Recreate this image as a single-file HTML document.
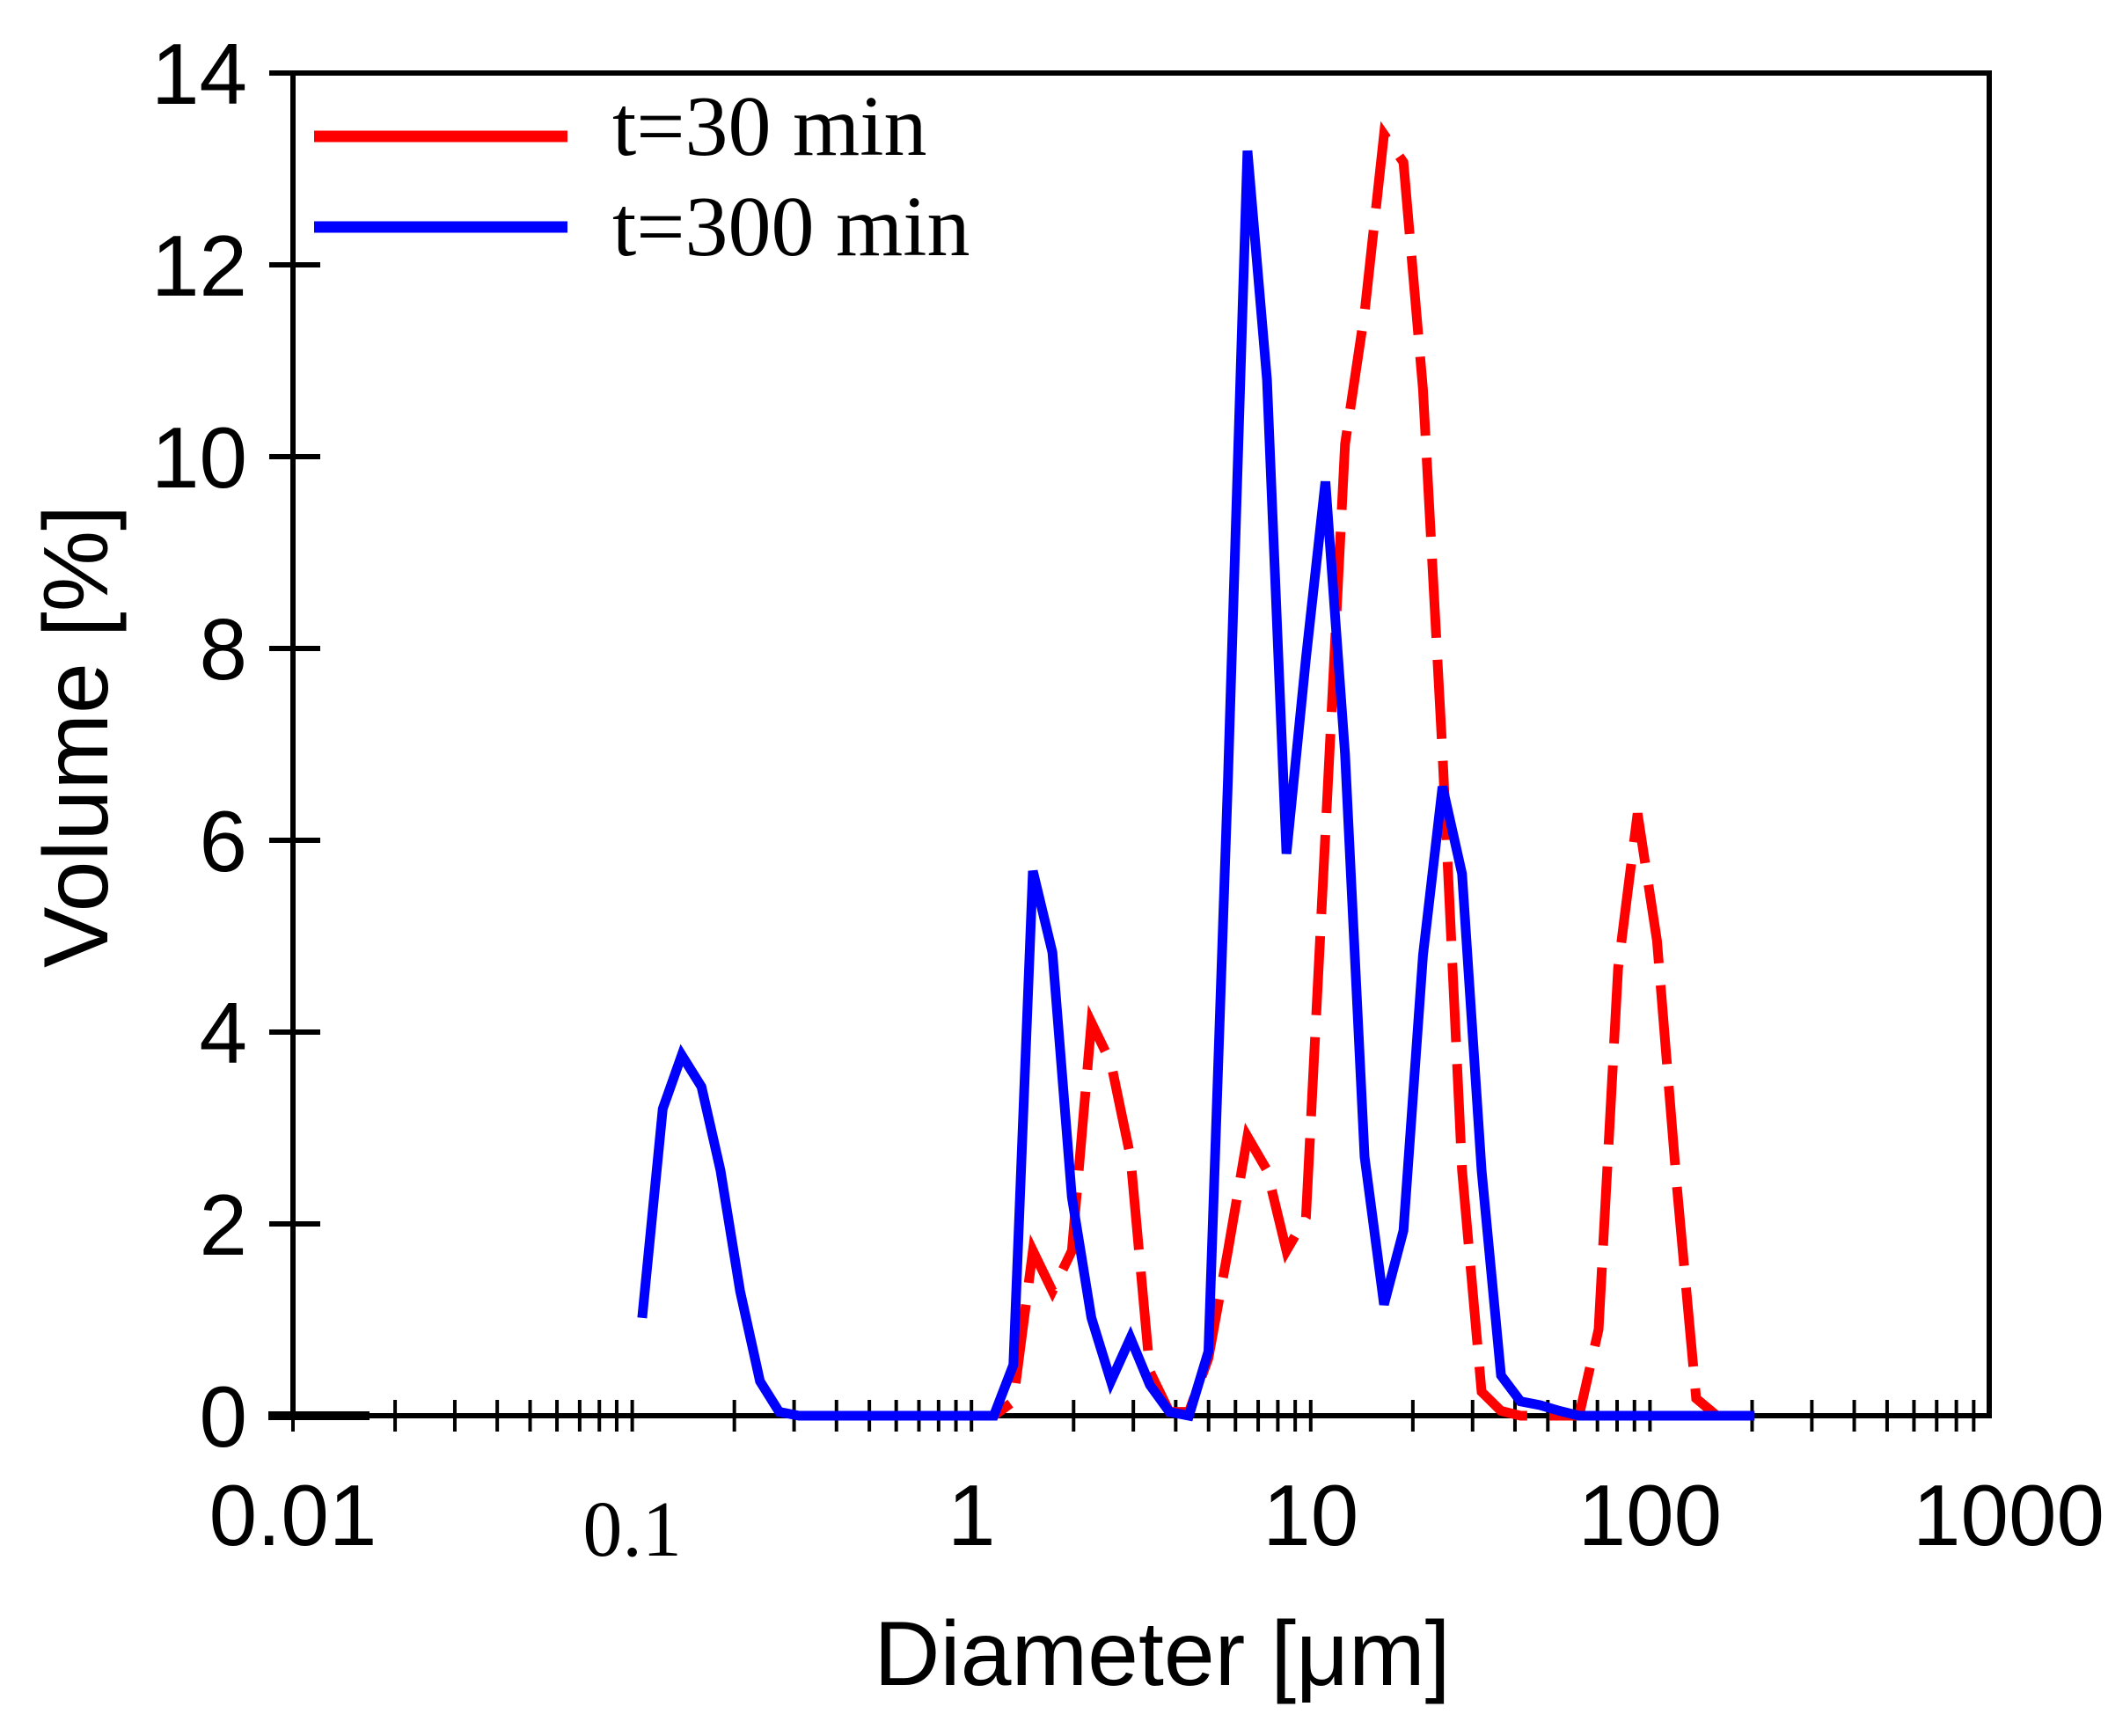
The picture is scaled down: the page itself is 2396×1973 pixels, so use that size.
<!DOCTYPE html>
<html><head><meta charset="utf-8"><style>
html,body{margin:0;padding:0;background:#fff;}
svg{display:block;}
</style></head><body>
<svg id="chart" width="2396" height="1973" viewBox="0 0 2396 1973" xmlns="http://www.w3.org/2000/svg">
<rect x="0" y="0" width="2396" height="1973" fill="#fff"/>
<g id="plot"></g>
<text transform="translate(122,837) rotate(-90)" text-anchor="middle" font-family="'Liberation Sans',sans-serif" font-size="104" fill="#000">Volume [%]</text>
<text x="1321" y="1915" text-anchor="middle" font-family="'Liberation Sans',sans-serif" font-size="104" fill="#000">Diameter [μm]</text>
<g>
<line x1="357" y1="155" x2="645" y2="155" stroke="#ff0000" stroke-width="13"/>
<text x="696" y="176" font-family="'Liberation Serif',serif" font-size="98" fill="#000">t=30 min</text>
<line x1="357" y1="258" x2="645" y2="258" stroke="#0000ff" stroke-width="13"/>
<text x="696" y="290" font-family="'Liberation Serif',serif" font-size="98" fill="#000">t=300 min</text>
</g>
</svg>
<script>
const diameters=[0.107,0.123,0.140,0.160,0.182,0.208,0.238,0.271,0.310,0.354,0.404,0.461,0.526,0.600,0.685,0.782,0.893,1.020,1.164,1.329,1.517,1.732,1.977,2.257,2.576,2.941,3.357,3.832,4.375,4.994,5.702,6.509,7.430,8.482,9.683,11.05,12.62,14.41,16.44,18.77,21.43,24.46,27.93,31.88,36.39,41.55,47.42,54.14,61.80,70.55,80.54,91.94,104.9,119.8,136.8,156.1,178.2,203.4];
const blueValues=[1.02,3.2,3.76,3.43,2.56,1.3,0.36,0.04,0,0,0,0,0,0,0,0,0,0,0,0.53,5.68,4.83,2.28,1.02,0.36,0.81,0.32,0.04,0,0.67,6.63,13.19,10.8,5.86,7.9,9.74,6.9,2.7,1.16,1.93,4.8,6.56,5.65,2.56,0.42,0.15,0.11,0.05,0,0,0,0,0,0,0,0,0,0];
const redValues=[null,null,null,null,null,null,null,null,null,null,null,null,null,null,null,0,0,0,0,0.15,1.72,1.3,1.72,4.1,3.68,2.7,0.46,0.04,0.04,0.6,1.72,2.91,2.56,1.72,2.07,6.07,10.13,11.5,13.36,13.07,10.7,6.9,2.56,0.25,0.05,0,0,0,0,0.9,4.67,6.28,4.95,2.42,0.18,0.01,null,null];
const xTickLabels=["0.01","0.1","1","10","100","1000"];
const xTickValues=[0.01,0.1,1,10,100,1000];
const yTickValues=[0,2,4,6,8,10,12,14];

const L=333,R=2261,T=83,B=1609;
const X=d=>L+(Math.log10(d)+2)/5*(R-L);
const Y=v=>B-v/14*(B-T);
const NS="http://www.w3.org/2000/svg";
const g=document.getElementById('plot');
function mk(tag,attrs){const e=document.createElementNS(NS,tag);for(const k in attrs)e.setAttribute(k,attrs[k]);g.appendChild(e);return e;}

let f=mk('rect',{x:L,y:T,width:R-L,height:B-T,fill:'none',stroke:'#000','stroke-width':6});


let zl=mk('line',{x1:305,y1:B,x2:420,y2:B,stroke:'#000','stroke-width':10});



for(let e=-2;e<3;e++){
  for(let m=1;m<10;m++){
    const d=m*Math.pow(10,e);const x=X(d);
    const t=mk('line',{x1:x,y1:B-18,x2:x,y2:B+18,stroke:'#000','stroke-width':4});
    
    
  }
}
xTickValues.forEach((v,i)=>{
  const serif=xTickLabels[i]==="0.1";
  const t=mk('text',{x:X(v),y:serif?1768:1756,'text-anchor':'middle','font-family':serif?"'Liberation Serif',serif":"'Liberation Sans',sans-serif",'font-size':serif?90:98,fill:'#000'});
  if(v===1000){t.setAttribute('text-anchor','end');t.setAttribute('x',2392);}
  t.textContent=xTickLabels[i];
  
  
});
yTickValues.forEach(v=>{
  const y=Y(v);
  const t=mk('line',{x1:306,y1:y,x2:364,y2:y,stroke:'#000','stroke-width':6});
  
  
  const l=mk('text',{x:281,y:y+35,'text-anchor':'end','font-family':"'Liberation Sans',sans-serif",'font-size':98,fill:'#000'});
  l.textContent=v;
  
  
});

function series(vals,color,dash,name){
  let d='';let started=false;
  vals.forEach((v,i)=>{if(v===null){started=false;return;}d+=(started?'L':'M')+X(diameters[i]).toFixed(1)+','+Y(v).toFixed(1)+' ';started=true;});
  const p=mk('path',{d:d,fill:'none',stroke:color,'stroke-width':11,'stroke-linejoin':'miter'});
  if(dash)p.setAttribute('stroke-dasharray',dash);
  
  
}
series(redValues,'#ff0000','90 25','series-30min');
series(blueValues,'#0000ff',null,'series-300min');
</script>
</body></html>
